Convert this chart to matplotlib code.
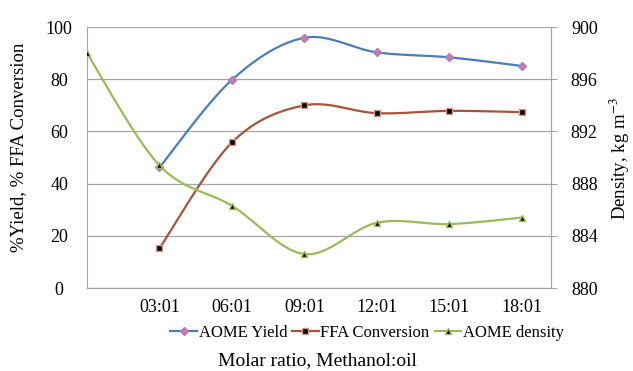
import numpy as np
from matplotlib import pyplot as plt

plt.rcParams['font.family'] = ['Liberation Serif', 'DejaVu Serif']
plt.rcParams['mathtext.fontset'] = 'stix'

ratios = ['', '03:01', '06:01', '09:01', '12:01', '15:01', '18:01']
yield_pos = [1, 2, 3, 4, 5, 6]
aome_yield = [46.2, 79.8, 95.9, 90.3, 88.4, 85.1]
ffa_conv = [15.2, 55.8, 70.0, 67.0, 67.9, 67.4]
dens_pos = [0, 1, 2, 3, 4, 5, 6]
density = [898.0, 889.4, 886.3, 882.6, 885.0, 884.9, 885.4]


def smooth(xs, ys, n=30):
    # excel-like smoothed line (bezier through the points)
    xs = np.asarray(xs, float)
    ys = np.asarray(ys, float)
    px = np.concatenate([[xs[0]], xs, [xs[-1]]])
    py = np.concatenate([[ys[0]], ys, [ys[-1]]])
    outx, outy = [], []
    t = np.linspace(0, 1, n)
    for i in range(1, len(px) - 2):
        p0 = np.array([px[i], py[i]])
        p3 = np.array([px[i + 1], py[i + 1]])
        c1 = p0 + (np.array([px[i + 1], py[i + 1]]) - np.array([px[i - 1], py[i - 1]])) / 6
        c2 = p3 - (np.array([px[i + 2], py[i + 2]]) - np.array([px[i], py[i]])) / 6
        b = ((1 - t) ** 3)[:, None] * p0 + (3 * (1 - t) ** 2 * t)[:, None] * c1 \
            + (3 * (1 - t) * t ** 2)[:, None] * c2 + (t ** 3)[:, None] * p3
        outx.extend(b[:, 0])
        outy.extend(b[:, 1])
    return outx, outy


fig = plt.figure(figsize=(6.33, 3.71), dpi=100)
ax = fig.add_axes([0.1374, 0.2237, 0.733, 0.7033])
ax2 = ax.twinx()

blue = '#4A7EBB'
brown = '#A9533A'
green = '#9BBB59'
grey = '#A6A6A6'

sx, sy = smooth(yield_pos, aome_yield)
ax.plot(sx, sy, color=blue, lw=1.6, zorder=3)
ax.plot(yield_pos, aome_yield, ls='none', marker='D', ms=4.5, mfc='#C77FA6', mec='#B27BBF', zorder=4)

sx, sy = smooth(yield_pos, ffa_conv)
ax.plot(sx, sy, color=brown, lw=1.6, zorder=3)
ax.plot(yield_pos, ffa_conv, ls='none', marker='s', ms=4.5, mfc='black', mec='#D49A8A', zorder=4)

sx, sy = smooth(dens_pos, density)
ax2.plot(sx, sy, color=green, lw=1.6, zorder=3)
ax2.plot(dens_pos, density, ls='none', marker='^', ms=4.5, mfc='black', mec=green, zorder=4)

ax.set_xlim(0, 6.4)
ax.set_ylim(0, 100)
ax2.set_ylim(880, 900)
ax.set_yticks(range(0, 101, 20))
ax2.set_yticks(range(880, 901, 4))
ax.set_xticks(range(7))
ax.set_xticklabels(ratios)

ax.grid(True, axis='y', color=grey, lw=0.9)
ax.set_axisbelow(True)
for a in (ax, ax2):
    a.spines['top'].set_visible(False)
    for s in ('left', 'right', 'bottom'):
        a.spines[s].set_color(grey)
ax2.spines['left'].set_visible(False)

ax.tick_params(axis='y', length=0, pad=20, labelsize=13)
for lab in ax.get_yticklabels():
    lab.set_horizontalalignment('center')
ax.tick_params(axis='x', length=0, pad=8, labelsize=13)
ax2.tick_params(axis='y', length=4, color=grey, pad=20, labelsize=13)
for lab in ax2.get_yticklabels():
    lab.set_horizontalalignment('center')

fig.text(0.030, 0.603, '%Yield, % FFA Conversion', rotation=90, ha='center', va='center', fontsize=13.5)
fig.text(0.980, 0.572, 'Density, kg m$^{-3}$', rotation=90, ha='center', va='center', fontsize=13.5)
fig.text(0.502, 0.028, 'Molar ratio, Methanol:oil', ha='center', va='center', fontsize=14)

h1 = plt.Line2D([], [], color=blue, lw=1.6, marker='D', ms=4, mfc='#C77FA6', mec='#B27BBF')
h2 = plt.Line2D([], [], color=brown, lw=1.6, marker='s', ms=4, mfc='black', mec='#D49A8A')
h3 = plt.Line2D([], [], color=green, lw=1.6, marker='^', ms=4, mfc='black', mec=green)
fig.legend([h1, h2, h3], ['AOME Yield', 'FFA Conversion', 'AOME density'],
           loc='center', bbox_to_anchor=(0.58, 0.102), ncol=3, frameon=False,
           fontsize=12, handlelength=1.6, handletextpad=0.1, columnspacing=0.3)

fig.savefig('out.png', dpi=100)
